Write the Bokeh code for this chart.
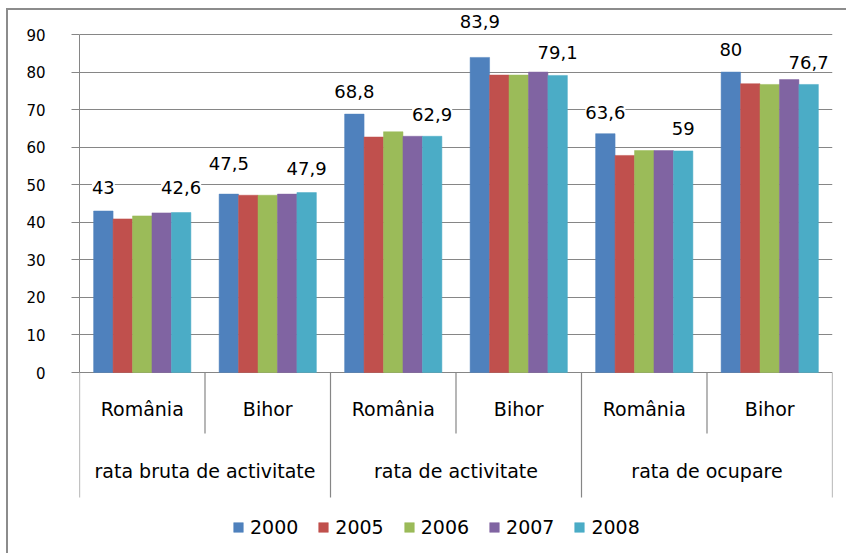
from bokeh.plotting import figure
from bokeh.models import (ColumnDataSource, FactorRange, Range1d, FixedTicker,
                          LabelSet, Legend, LegendItem)
from bokeh.transform import dodge
from bokeh.core.properties import value
from bokeh.embed import file_html
from bokeh.resources import INLINE

# ---------------- data ----------------
indicators = ["rata bruta de activitate", "rata de activitate", "rata de ocupare"]
areas = ["România", "Bihor"]
years = ["2000", "2005", "2006", "2007", "2008"]
v2000 = [43, 47.5, 68.8, 83.9, 63.6, 80]
v2005 = [40.9, 47.2, 62.7, 79.2, 57.8, 76.9]
v2006 = [41.7, 47.2, 64.1, 79.2, 59.1, 76.7]
v2007 = [42.5, 47.5, 62.9, 80.0, 59.1, 78.0]
v2008 = [42.6, 47.9, 62.9, 79.1, 59, 76.7]
y_ticks = [0, 10, 20, 30, 40, 50, 60, 70, 80, 90]

# ---------------- style ----------------
colors = ["#4F81BD", "#C0504D", "#9BBB59", "#8064A2", "#4BACC6"]
offsets = [-0.31, -0.155, 0.0, 0.155, 0.31]
bar_w = 0.155
lift2000 = [24, 31, 23, 36, 21, 23]
lift2008 = [25, 24, 22, 23, 22, 22]
grid_col = "#868686"
FONT = "DejaVu Sans"

# pixel layout (page coordinates)
CANVAS_LEFT, CANVAS_TOP = 8, 10
FRAME_LEFT, FRAME_RIGHT = 79, 832
AXIS_TOP, ZERO_Y = 34, 372
W, H = 840, 545
FRAME_BOTTOM = CANVAS_TOP + H
px_per_unit = (ZERO_Y - AXIS_TOP) / 90.0
def y_of(px):
    return -(px - ZERO_Y) / px_per_unit

groups = [(ind, a) for ind in indicators for a in areas]

def fmt(v):
    return ("%g" % v).replace(".", ",")

src = ColumnDataSource(dict(
    grp=groups, v2000=v2000, v2005=v2005, v2006=v2006, v2007=v2007, v2008=v2008,
    t2000=[fmt(v) for v in v2000], t2008=[fmt(v) for v in v2008],
    l2000=lift2000, l2008=lift2008,
))

x_range = FactorRange(*groups, range_padding=0, group_padding=0,
                      subgroup_padding=0, factor_padding=0)
y_range = Range1d(y_of(FRAME_BOTTOM), y_of(CANVAS_TOP))

p = figure(x_range=x_range, y_range=y_range, width=W, height=H,
           output_backend="svg", toolbar_location=None,
           x_axis_location=None, y_axis_location="left",
           min_border_left=FRAME_LEFT - CANVAS_LEFT,
           min_border_top=0,
           min_border_right=CANVAS_LEFT + W - FRAME_RIGHT, min_border_bottom=0)
p.styles = {"margin-left": "6px", "margin-top": "8px",
            "border-left": "2px solid #8c8c8c", "border-top": "2px solid #8c8c8c"}
p.outline_line_color = None
p.background_fill_color = "white"
p.border_fill_color = "white"

ticker = FixedTicker(ticks=y_ticks)
yax = p.yaxis[0]
yax.ticker = ticker
yax.bounds = (0, 90)
yax.axis_line_color = grid_col
yax.major_tick_line_color = grid_col
yax.major_tick_out = 8
yax.major_tick_in = 0
yax.minor_tick_line_color = None
yax.major_label_standoff = 26
yax.major_label_text_font = FONT
yax.major_label_text_font_size = "15px"
yax.major_label_text_color = "#000000"

p.xgrid.visible = False
p.ygrid.ticker = ticker
p.ygrid.grid_line_color = grid_col
p.ygrid.grid_line_width = 1

fields = ["v2000", "v2005", "v2006", "v2007", "v2008"]
renderers = []
for f, c, off in zip(fields, colors, offsets):
    r = p.vbar(x=dodge("grp", off, range=p.x_range), top=f, bottom=0, width=bar_w,
               source=src, fill_color=c, line_color=c, line_width=0.5)
    renderers.append(r)

# category axis separators
sep_sub_y = y_of(433)
sep_grp_y = y_of(497)
sx, sy1 = [], []
sx.append((indicators[0], areas[0], -0.5)); sy1.append(sep_grp_y)
for ind in indicators:
    sx.append((ind, areas[0], 0.5)); sy1.append(sep_sub_y)
    sx.append((ind, areas[-1], 0.5)); sy1.append(sep_grp_y)
sep_src = ColumnDataSource(dict(x=sx, y0=[0] * len(sx), y1=sy1))
p.segment(x0="x", y0="y0", x1="x", y1="y1", source=sep_src,
          line_color=grid_col, line_width=1.2)

# category labels
sub_src = ColumnDataSource(dict(x=groups, y=[y_of(408)] * len(groups),
                                t=[g[1] for g in groups]))
p.text(x="x", y="y", text="t", source=sub_src, text_align="center",
       text_baseline="middle", text_font=value(FONT), text_font_size="19px",
       text_color="#000000")
top_src = ColumnDataSource(dict(x=indicators, y=[y_of(470)] * len(indicators),
                                t=indicators))
p.text(x="x", y="y", text="t", source=top_src, text_align="center",
       text_baseline="middle", text_font=value(FONT), text_font_size="19px",
       text_color="#000000")

# data labels
for f, t, l, off in [("v2000", "t2000", "l2000", offsets[0]),
                     ("v2008", "t2008", "l2008", offsets[-1])]:
    ls = LabelSet(x=dodge("grp", off, range=p.x_range), y=f, text=t, source=src,
                  y_offset=l, text_align="center", text_baseline="middle",
                  text_font=value(FONT), text_font_size="18px", text_color="#000000",
                  background_fill_color="white")
    p.add_layout(ls)

legend = Legend(items=[LegendItem(label=y, renderers=[r]) for y, r in zip(years, renderers)],
                orientation="horizontal", location=(232 - FRAME_LEFT, 17),
                glyph_width=12, glyph_height=12, label_standoff=6, spacing=19,
                padding=0, margin=0, border_line_color=None,
                background_fill_alpha=0,
                label_text_font=FONT, label_text_font_size="19px",
                label_text_color="#000000")
p.add_layout(legend)

open("out.html", "w").write(file_html(p, INLINE))
